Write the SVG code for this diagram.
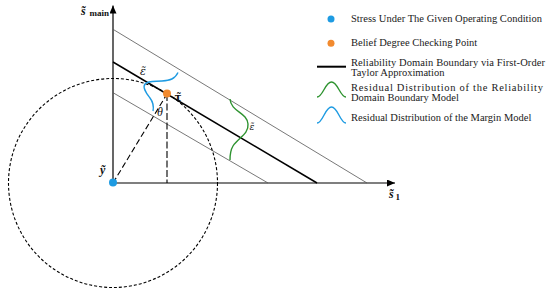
<svg xmlns="http://www.w3.org/2000/svg" width="550" height="295" viewBox="0 0 550 295">
<style>
.leg{font-family:"Liberation Serif","Times New Roman",serif;font-size:10.5px;fill:#1a1a1a}
.it{font-family:"Liberation Serif","DejaVu Serif",serif;font-style:italic;fill:#111}
.dv{font-family:"DejaVu Serif",serif;fill:#111}
.b{font-weight:bold}
.t{font-style:normal;font-size:9px}
.axis{stroke:#000;stroke-width:1.2;fill:none}
.gray{stroke:#555;stroke-width:0.8;fill:none}
.main{stroke:#000;stroke-width:1.5;fill:none}
.dash{stroke:#000;stroke-width:1.1;fill:none}
.blue{fill:#1e9be2}
.orange{fill:#f28a2e}
.bcurve{stroke:#1e9be2;stroke-width:1.4;fill:none}
.gcurve{stroke:#2e9330;stroke-width:1.4;fill:none}
</style>
<defs>
<marker id="arr" viewBox="0 0 8 7" refX="8" refY="3.5" markerWidth="8" markerHeight="7" markerUnits="userSpaceOnUse" orient="auto">
<path d="M0,0 L8,3.5 L0,7 Z" fill="#000"/>
</marker>
</defs>
<rect width="550" height="295" fill="#fff"/>
<g id="connectors">
<line class="axis" x1="113" y1="183" x2="113" y2="5.5" marker-end="url(#arr)"/>
<line class="axis" x1="113" y1="183" x2="395" y2="183" marker-end="url(#arr)"/>
<line class="gray" x1="113" y1="29.3" x2="367" y2="183"/>
<line class="main" x1="113" y1="62" x2="317" y2="183"/>
<line class="gray" x1="113" y1="92.7" x2="268" y2="183"/>
<circle class="dash" cx="113" cy="183" r="104.5" stroke-dasharray="3 2"/>
<line class="dash" x1="113" y1="183" x2="167" y2="94" stroke-dasharray="6 3"/>
<line class="dash" x1="167" y1="94" x2="167" y2="183" stroke-dasharray="7 2.5"/>
<path class="bcurve" d="M178,72.5 C175,79 170,80.5 162,81 C154,81.5 148,80.5 145,84 C142,88 147,94 150,98 C153,102 154,106 153,111"/>
<path class="gcurve" d="M230,99 C231,112 247,112 248,124 C249,134 238,138 233,146 C230,151 230,155 230,160"/>
</g>
<g id="axis-labels">
<text class="it b" x="81" y="15" font-size="12">s̃<tspan class="t" x="89.5" y="16" font-size="8">main</tspan></text>
<text class="it b" x="389" y="198" font-size="12">s̃<tspan class="t" x="395.5" y="200" font-size="8">1</tspan></text>
</g>
<g id="node-y">
<circle class="blue" cx="113" cy="182.5" r="4"/>
<text class="it b" x="100" y="174" font-size="12">ỹ</text>
</g>
<g id="node-tau">
<circle class="orange" cx="167" cy="93.5" r="4"/>
<text class="dv b" x="174.5" y="100.5" font-size="10.5">τ̃</text>
</g>
<g id="labels">
<text class="it" x="157" y="116" font-size="12">θ</text>
<text class="dv" x="140" y="75" font-size="11" font-style="italic">ε̃</text>
<text class="dv" x="249.5" y="129.5" font-size="9" font-style="italic">ε̃</text>
</g>
<g id="legend">
<g id="legend-stress">
<circle class="blue" cx="331" cy="19" r="3.5"/>
<text class="leg" x="351" y="22" textLength="191" lengthAdjust="spacing">Stress Under The Given Operating Condition</text>
</g>
<g id="legend-belief">
<circle class="orange" cx="331" cy="43.3" r="3.5"/>
<text class="leg" x="351" y="45.7">Belief Degree Checking Point</text>
</g>
<g id="legend-boundary">
<line x1="317" y1="66.7" x2="346" y2="66.7" stroke="#000" stroke-width="2"/>
<text class="leg" x="351" y="65.5" textLength="194" lengthAdjust="spacing">Reliability Domain Boundary via First-Order</text>
<text class="leg" x="351" y="75.5">Taylor Approximation</text>
</g>
<g id="legend-green">
<path class="gcurve" d="M317,97 C323,97 325,82 331.5,82 C338,82 340,97 346,97"/>
<text class="leg" x="351" y="91" textLength="192" lengthAdjust="spacing">Residual Distribution of the Reliability</text>
<text class="leg" x="351" y="101">Domain Boundary Model</text>
</g>
<g id="legend-blue">
<path class="bcurve" d="M317,123 C323,123 325,107 331.5,107 C338,107 340,123 346,123"/>
<text class="leg" x="351" y="120.7">Residual Distribution of the Margin Model</text>
</g>
</g>
</svg>
